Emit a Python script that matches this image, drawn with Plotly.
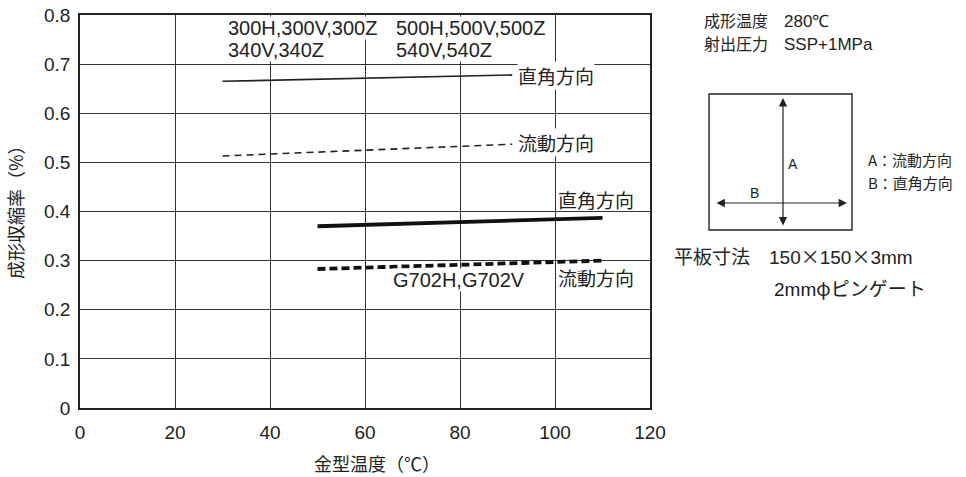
import plotly.graph_objects as go

# ---- data ----
temp_A = [30, 91]
perp_A = [0.665, 0.678]     # 300/340/500/540 grades, 直角方向
flow_A = [0.513, 0.537]     # 流動方向
temp_B = [50, 110]
perp_B = [0.370, 0.387]     # G702H,G702V 直角方向
flow_B = [0.283, 0.300]     # 流動方向

x_ticks = [0, 20, 40, 60, 80, 100, 120]
y_ticks = [0, 0.1, 0.2, 0.3, 0.4, 0.5, 0.6, 0.7, 0.8]
y_ticklabels = ["0", "0.1", "0.2", "0.3", "0.4", "0.5", "0.6", "0.7", "0.8"]

W, H = 966, 477
L, R, T, B = 80, 650, 15, 408

LAT = "Liberation Sans, Arial, sans-serif"
JP = "Noto Sans CJK JP, sans-serif"
INK = "#222"

def px(xp):
    return (xp - L) / (R - L)

def py(yp):
    return (B - yp) / (B - T)

def dxv(xp):
    return (xp - L) / (R - L) * 120

def dyv(yp):
    return (B - yp) / (B - T) * 0.8

fig = go.Figure()
fig.add_trace(go.Scatter(x=temp_A, y=perp_A, mode="lines",
                         line=dict(color=INK, width=1.6)))
fig.add_trace(go.Scatter(x=temp_A, y=flow_A, mode="lines",
                         line=dict(color=INK, width=1.6, dash="7px,5px")))
fig.add_trace(go.Scatter(x=temp_B, y=perp_B, mode="lines",
                         line=dict(color="#111", width=3.8)))
fig.add_trace(go.Scatter(x=temp_B, y=flow_B, mode="lines",
                         line=dict(color="#111", width=3.8, dash="8px,4px")))

annots = []
def txt(x, y, s, size=19, font=LAT, xref="x", yref="y", xanchor="left",
        yanchor="middle", bg=None, angle=0):
    a = dict(x=x, y=y, xref=xref, yref=yref, text=s, showarrow=False,
             xanchor=xanchor, yanchor=yanchor, align="left", textangle=angle,
             borderpad=0,
             font=dict(family=font, size=size, color=INK))
    if bg:
        a["bgcolor"] = bg
    annots.append(a)

def lat(s, size=None):
    st = "font-family:Liberation Sans"
    if size:
        st += ";font-size:%dpx" % size
    return "<span style='" + st + "'>" + s + "</span>"

# in-plot labels
txt(dxv(517), dyv(75), "直角方向", font=JP, bg="white")
txt(dxv(517), dyv(142), "流動方向", font=JP, bg="white")
txt(dxv(557), dyv(199), "直角方向", font=JP)
txt(dxv(557), dyv(277), "流動方向", font=JP)
txt(dxv(392), dyv(280), "G702H,G702V", size=20, bg="white")
txt(dxv(227), dyv(28), "300H,300V,300Z", size=20, bg="white")
txt(dxv(227), dyv(50), "340V,340Z", size=20, bg="white")
txt(dxv(395), dyv(28), "500H,500V,500Z", size=20, bg="white")
txt(dxv(395), dyv(50), "540V,540Z", size=20, bg="white")

# axis titles
txt(px(377), py(463), "金型温度（℃）", size=18, font=JP, xref="paper", yref="paper",
    xanchor="center")
txt(px(15), py(208), "成形収縮率（%）", size=18, font=JP, xref="paper", yref="paper",
    xanchor="center", angle=-90)

# right-hand notes
txt(px(703), py(20), "成形温度　" + lat("280℃", 17), size=16, font=JP, xref="paper", yref="paper")
txt(px(703), py(43), "射出圧力　" + lat("SSP+1MPa", 17), size=16, font=JP, xref="paper", yref="paper")
txt(px(867), py(159), "A：流動方向", size=15, font=JP, xref="paper", yref="paper")
txt(px(867), py(182), "B：直角方向", size=15, font=JP, xref="paper", yref="paper")
txt(px(793), py(164), "A", size=14, xref="paper", yref="paper", xanchor="center")
txt(px(754), py(193), "B", size=14, xref="paper", yref="paper", xanchor="center")
txt(px(673), py(255), "平板寸法　" + lat("150") + "×" + lat("150") + "×" + lat("3mm"),
    size=19, font=JP, xref="paper", yref="paper")
txt(px(773), py(287), lat("2mm") + "φピンゲート", size=19, font=JP, xref="paper", yref="paper")

# double-headed arrows in the diagram
annots.append(dict(x=px(783), y=py(98), xref="paper", yref="paper", ax=0, ay=129,
                   text="", showarrow=True, arrowhead=2, startarrowhead=2,
                   arrowside="end+start", arrowwidth=1.2, arrowcolor=INK, arrowsize=1.4,
                   startarrowsize=1.4))
annots.append(dict(x=px(847), y=py(203), xref="paper", yref="paper", ax=-132, ay=0,
                   text="", showarrow=True, arrowhead=2, startarrowhead=2,
                   arrowside="end+start", arrowwidth=1.2, arrowcolor=INK, arrowsize=1.4,
                   startarrowsize=1.4))

shapes = [dict(type="rect", xref="paper", yref="paper",
               x0=px(709), x1=px(852), y0=py(230), y1=py(94),
               line=dict(color=INK, width=1.4))]

fig.update_layout(
    width=W, height=H,
    margin=dict(l=L, r=W - R, t=T, b=H - B),
    paper_bgcolor="white", plot_bgcolor="white",
    showlegend=False,
    annotations=annots, shapes=shapes,
    xaxis=dict(range=[0, 120], tickvals=x_ticks, showgrid=True, gridcolor="#333",
               gridwidth=1.2, zeroline=False, showline=True, mirror=True, automargin=False,
               linecolor="#222", linewidth=1.5, ticks="", ticklabelstandoff=6,
               tickfont=dict(family=LAT, size=19, color=INK)),
    yaxis=dict(range=[0, 0.8], tickvals=y_ticks, ticktext=y_ticklabels, showgrid=True,
               gridcolor="#333", gridwidth=1.2, zeroline=False, showline=True, mirror=True,
               automargin=False, ticklabelstandoff=4,
               linecolor="#222", linewidth=1.5, ticks="",
               tickfont=dict(family=LAT, size=19, color=INK)),
)

fig.write_html("out.html", config={"displayModeBar": False},
               post_script="document.body.style.margin='0';document.body.style.overflow='hidden';")
